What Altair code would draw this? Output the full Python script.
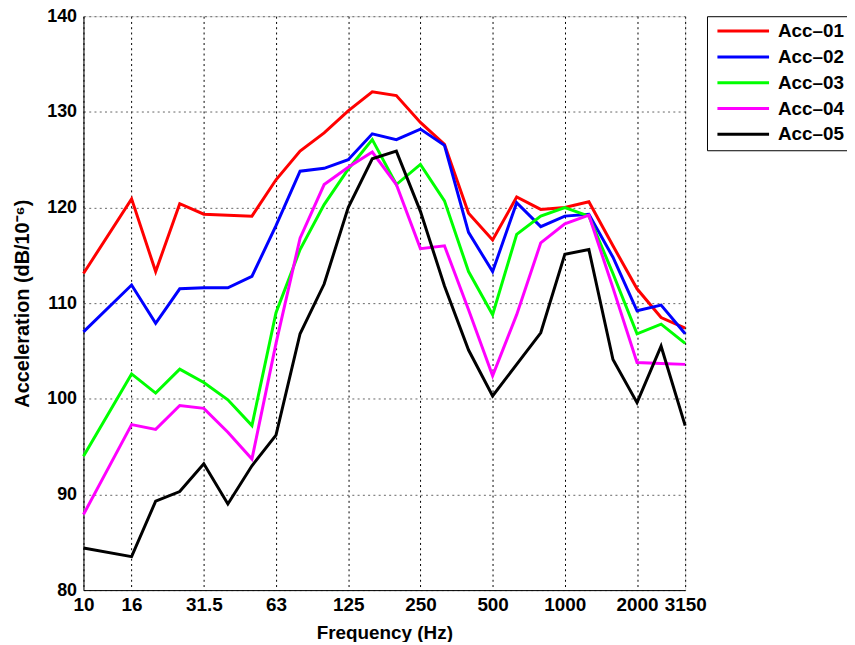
import altair as alt
import pandas as pd

# full 1/3-octave band set (defines x positions) and bands actually measured
third_octave = ["10", "12.5", "16", "20", "25", "31.5", "40", "50", "63", "80", "100",
                "125", "160", "200", "250", "315", "400", "500", "630", "800", "1000",
                "1250", "1600", "2000", "2500", "3150"]
bands = ["10", "16", "20", "25", "31.5", "40", "50", "63", "80", "100", "125", "160",
         "200", "250", "315", "400", "500", "630", "800", "1000", "1250", "1600",
         "2000", "2500", "3150"]
tick_bands = ["10", "16", "31.5", "63", "125", "250", "500", "1000", "2000", "3150"]

series = ["Acc–01", "Acc–02", "Acc–03", "Acc–04", "Acc–05"]
colors = ["#ff0000", "#0000ff", "#00ff00", "#ff00ff", "#000000"]

acc01 = [113.1, 120.9, 113.3, 120.4, 119.3, 119.2, 119.1, 122.9, 125.9, 127.8, 130.1, 132.1,
         131.7, 128.9, 126.6, 119.4, 116.6, 121.1, 119.8, 120.0, 120.6, 116.0, 111.5, 108.5, 107.4]
acc02 = [107.0, 111.9, 107.9, 111.5, 111.6, 111.6, 112.8, 118.1, 123.8, 124.1, 125.0, 127.7,
         127.1, 128.2, 126.5, 117.4, 113.3, 120.5, 118.0, 119.1, 119.3, 114.8, 109.2, 109.8, 106.8]
acc03 = [94.0, 102.6, 100.6, 103.1, 101.7, 99.9, 97.2, 109.0, 115.6, 120.3, 124.0, 127.1,
         122.4, 124.5, 120.7, 113.3, 108.8, 117.2, 119.1, 120.0, 119.1, 113.1, 106.8, 107.8, 105.8]
acc04 = [87.9, 97.3, 96.8, 99.3, 99.0, 96.5, 93.7, 105.8, 116.8, 122.4, 124.2, 125.8,
         122.4, 115.7, 116.0, 109.3, 102.4, 108.8, 116.3, 118.3, 119.2, 111.6, 103.8, 103.7, 103.6]
acc05 = [84.4, 83.5, 89.3, 90.3, 93.2, 89.0, 93.0, 96.2, 106.8, 112.0, 120.0, 125.1,
         125.9, 119.6, 111.8, 105.1, 100.3, 103.6, 106.9, 115.1, 115.6, 104.1, 99.6, 105.5, 97.2]

y_ticks = [80, 90, 100, 110, 120, 130, 140]

rows = []
for name, vals in zip(series, [acc01, acc02, acc03, acc04, acc05]):
    for b, v in zip(bands, vals):
        rows.append({"series": name, "band": b, "pos": third_octave.index(b), "value": v})
df = pd.DataFrame(rows)

tick_pos = [third_octave.index(b) for b in tick_bands]
label_expr = "[" + ",".join("'%s'" % b for b in third_octave) + "][datum.value]"

FONT = "Liberation Sans"

chart = alt.Chart(df).mark_line(strokeWidth=3).encode(
    x=alt.X("pos:Q",
            scale=alt.Scale(domain=[0, len(third_octave) - 1], nice=False, zero=False),
            axis=alt.Axis(values=tick_pos, labelExpr=label_expr, grid=True,
                          gridColor="black", gridDash=[2, 3.3], gridWidth=1, gridOpacity=1,
                          ticks=False, domainColor="black", domainWidth=1,
                          labelFont=FONT, labelFontSize=19, labelFontWeight="bold",
                          labelColor="black", labelPadding=6, labelFlush=False,
                          labelOverlap=False, title="Frequency (Hz)", titleFont=FONT,
                          titleFontSize=19, titleFontWeight="bold", titleColor="black",
                          titlePadding=9)),
    y=alt.Y("value:Q",
            scale=alt.Scale(domain=[80, 140], nice=False, zero=False),
            axis=alt.Axis(values=y_ticks, grid=True, gridColor="#666666",
                          gridDash=[2, 3.3], gridWidth=1, gridOpacity=1, ticks=False,
                          domainColor="black", domainWidth=1, labelFont=FONT,
                          labelFontSize=18, labelFontWeight="bold", labelColor="black",
                          labelPadding=7, labelFlush=False, labelOverlap=False,
                          title="Acceleration (dB/10⁻⁶)", titleFont=FONT, titleFontSize=20,
                          titleFontWeight="bold", titleColor="black", titlePadding=14)),
    color=alt.Color("series:N",
                    scale=alt.Scale(domain=series, range=colors),
                    legend=alt.Legend(orient="none", legendX=628, legendY=0, title=None,
                                      symbolType="M-5.2,0H5.2", symbolSize=100,
                                      symbolStrokeWidth=3, labelFont=FONT, labelFontSize=19,
                                      labelFontWeight="bold", labelColor="black",
                                      strokeColor="black", fillColor="white", padding=5.5,
                                      rowPadding=6, symbolOffset=21.5, labelOffset=25.5,
                                      cornerRadius=0)),
    order=alt.Order("series:N"),
).properties(
    width=606, height=578,
    autosize=alt.AutoSizeParams(type="none"),
    padding={"left": 76, "top": 6, "right": 163, "bottom": 50},
).configure_view(stroke=None).configure(background="white")

chart.save("out.html", embed_options={"renderer": "svg", "actions": False})
